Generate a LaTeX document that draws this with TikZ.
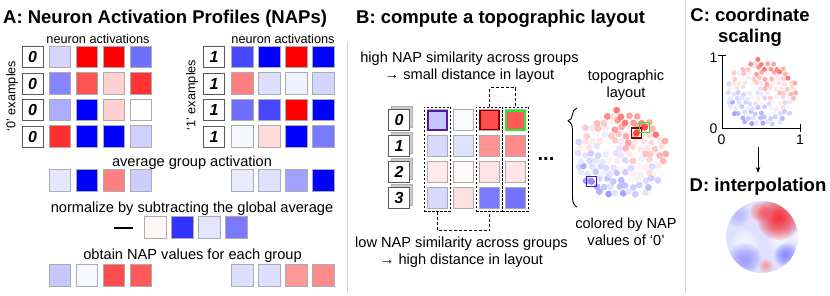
\documentclass[tikz,border=0pt]{standalone}
\usepackage{fontspec}
\setmainfont{Liberation Sans}
\usetikzlibrary{arrows.meta, positioning, fit, decorations.pathreplacing}
\definecolor{selpurple}{RGB}{85,25,150}
\definecolor{seldarkred}{RGB}{135,0,0}
\definecolor{selgreen}{RGB}{40,235,40}
\colorlet{sepgray}{gray!35}

\tikzset{
  napsq/.style={draw=gray!65, line width=0.8pt, minimum size=21.5pt, inner sep=0},
  digitbox/.style={draw=gray!70!black, fill=white, line width=0.6pt, minimum size=21pt, inner sep=0,
    font=\fontsize{16}{16}\selectfont\bfseries\itshape},
  digitback/.style={draw=gray!60, fill=gray!40, line width=0.6pt, minimum size=21pt, inner sep=0},
  colbox/.style={draw, dash pattern=on 2.5pt off 1.5pt, line width=0.7pt, inner sep=2.5pt},
  link/.style={draw, dash pattern=on 3pt off 2pt, line width=0.8pt},
  paneltitle/.style={font=\fontsize{18.5}{21}\selectfont\bfseries, inner sep=0},
  lbl/.style={font=\fontsize{14.6}{17}\selectfont, inner sep=0, align=center},
  smalllbl/.style={font=\fontsize{12.7}{14}\selectfont, inner sep=0},
  ticklbl/.style={font=\fontsize{14}{14}\selectfont, inner sep=0},
}

% layout dots on a jittered grid, coloured by the NAP value of '0'
\newcommand{\napdots}[4]{%
  \pgfmathsetseed{42}
  \foreach \j in {-7,...,7}{
    \foreach \i in {-7,...,7}{
      \pgfmathsetmacro{\ux}{(\i+0.5*mod(abs(\j),2)+0.45*(rnd-0.5))/6.3}
      \pgfmathsetmacro{\vy}{(0.866*\j+0.45*(rnd-0.5))/6.3}
      \pgfmathtruncatemacro{\inside}{((\ux)*(\ux)+(\vy)*(\vy)<0.92)}
      \pgfmathtruncatemacro{\napv}{48*(\vy)+22*(\ux)+50*(rnd-0.5)}
      \pgfmathsetmacro{\px}{#1+#3*(\ux)}
      \pgfmathsetmacro{\py}{#2-#3*(\vy)}
      \ifnum\inside=1
        \ifnum\napv>0
          \pgfmathtruncatemacro{\ci}{min(75,1.1*\napv)}
          \fill[red!\ci, fill opacity=0.85] (\px,\py) circle[radius=#4];
        \else
          \pgfmathtruncatemacro{\ci}{min(45,-0.75*\napv)}
          \fill[blue!\ci, fill opacity=0.85] (\px,\py) circle[radius=#4];
        \fi
      \fi
    }
  }
}
% soft blob for the interpolated map
\newcommand{\napblob}[4]{%
  \foreach \s in {1,...,10}{
    \fill[#4, fill opacity=0.13] (#1,#2) circle[radius={#3*\s/10}];
  }
}

\begin{document}
\begin{tikzpicture}[x=1pt, y=-1pt, >=Stealth]
  \useasboundingbox (0,0) rectangle (830,295);

  % Panel titles
  \node[paneltitle, anchor=base west] (atitle) at (3,23) {A: Neuron Activation Profiles (NAPs)};
  \node[paneltitle, anchor=base west] (btitle) at (356,23) {B: compute a topographic layout};
  \node[paneltitle, align=center] (ctitle) at (750,27) {C: coordinate\\scaling};
  \node[paneltitle, anchor=base] (dtitle) at (758,191) {D: interpolation};

  % Separators
  \draw[sepgray, line width=1pt] (347,42) -- (347,292);
  \draw[sepgray, line width=1pt] (685,0) -- (685,293);

  % A: activations per example
  \node[smalllbl, anchor=base] (actzero) at (98,43) {neuron activations};
  \node[smalllbl, anchor=base] (actone) at (283,43) {neuron activations};
  \node[smalllbl, rotate=90] (exzero) at (12,96) {‘0’ examples};
  \node[smalllbl, rotate=90] (exone) at (192,95) {‘1’ examples};

  \foreach \r in {1,...,4}{
    \node[digitbox] (dzero\r) at (32.5,30.5+26.5*\r) {0};
    \node[digitbox] (done\r) at (214,30.5+26.5*\r) {1};
  }
  \foreach \row [count=\r] in {{blue!16,red,red,blue!57},{blue!48,red!68,red!18,red!80},
      {blue!32,blue,red!18,white},{red!82,blue,blue,blue!18}}
    \foreach \col [count=\c] in \row
      \node[napsq, fill=\col] (zs\r\c) at (33+27*\c,30.5+26.5*\r) {};
  \foreach \row [count=\r] in {{blue!72,blue,red,blue},{red!50,blue!13,blue!6,blue!17},
      {blue!57,blue!72,red,blue},{blue!3,red!14,blue,blue!52}}
    \foreach \col [count=\c] in \row
      \node[napsq, fill=\col] (os\r\c) at (215.5+27*\c,30.5+26.5*\r) {};

  % A: averages and normalisation
  \node[lbl, anchor=base] (avglbl) at (192,166) {average group activation};
  \foreach \col [count=\c] in {blue!10,blue,red!50,blue!20}
    \node[napsq, fill=\col] (avgz\c) at (33+27*\c,180.5) {};
  \foreach \col [count=\c] in {blue!8,blue!12,blue!37,blue}
    \node[napsq, fill=\col] (avgo\c) at (215.5+27*\c,180.5) {};

  \node[lbl, anchor=base] (normlbl) at (192,212) {normalize by subtracting the global average};
  \node[fill=black, minimum width=19pt, minimum height=2pt, inner sep=0] (minus) at (123.5,227.5) {};
  \foreach \col [count=\c] in {red!3,blue!80,blue!10,blue!52}
    \node[napsq, fill=\col] (glob\c) at (128.5+27*\c,227.5) {};

  \node[lbl, anchor=base] (naplbl) at (192.5,259) {obtain NAP values for each group};
  \foreach \col [count=\c] in {blue!22,blue!3,red!70,red!65}
    \node[napsq, fill=\col] (napz\c) at (33+27*\c,275.5) {};
  \foreach \col [count=\c] in {blue!13,blue!13,red!40,red!45}
    \node[napsq, fill=\col] (napo\c) at (215.5+27*\c,275.5) {};

  % B: NAP table
  \node[lbl] (hightxt) at (469.5,67.5) {high NAP similarity across groups\\→ small distance in layout};
  \foreach \d [count=\r] in {0,1,2,3}{
    \node[digitback] (bback\r) at (402,91+26*\r) {};
    \node[digitbox] (bdig\r) at (399,94+26*\r) {\d};
  }
  \foreach \row [count=\r] in {{blue!22,blue!2,red!70,red!65},{blue!15,blue!12,red!42,red!45},
      {red!8,red!2,red!10,red!10},{blue!15,red!12,blue!52,blue!55}}
    \foreach \col [count=\c] in \row
      \node[napsq, minimum size=20.5pt, fill=\col] (b\r\c) at (411.5+26*\c,94+26*\r) {};
  \node[draw=selpurple, line width=2pt, minimum size=19pt, inner sep=0] (hlpurple) at (b11) {};
  \node[draw=seldarkred, line width=1.8pt, minimum size=19pt, inner sep=0] (hlred) at (b13) {};
  \node[draw=selgreen, line width=2pt, minimum size=19pt, inner sep=0] (hlgreen) at (b14) {};

  \node[colbox, fit=(b11)(b41)] (cone) {};
  \node[colbox, fit=(b13)(b43)] (cthree) {};
  \node[colbox, fit=(b14)(b44)] (cfour) {};
  \draw[link] (cthree.north) -- ++(0,-19) -| (cfour.north);
  \draw[link] (cone.south) -- ++(0,19) -| (cthree.south);
  \node[lbl] (lowtxt) at (461.5,252.7) {low NAP similarity across groups\\→ high distance in layout};
  \node[font=\fontsize{20}{20}\selectfont\bfseries, inner sep=0] (more) at (546,159) {...};

  % B: topographic layout
  \node[lbl] (topolbl) at (626,85) {topographic\\layout};
  \draw[decorate, decoration={brace, amplitude=9pt, aspect=0.87}, line width=0.9pt] (577,207) -- (577,108);
  \napdots{622}{154}{47}{3.4}
  \fill[red!75] (636.5,133) circle[radius=3.4];
  \fill[red!70] (644.5,127.5) circle[radius=3.4];
  \fill[blue!45] (591.5,181.5) circle[radius=3.4];
  \node[draw=seldarkred, line width=1.6pt, minimum size=10pt, inner sep=0] (selred) at (636.5,133) {};
  \node[draw=selgreen, line width=1.6pt, minimum size=10pt, inner sep=0] (selgreen) at (644.5,127.5) {};
  \node[draw=selpurple, line width=1.6pt, minimum size=10pt, inner sep=0] (selpurple) at (591.5,181.5) {};
  \node[lbl] (colorlbl) at (626,232) {colored by NAP\\values of ‘0’};

  % C: coordinate scaling
  \napdots{762}{93}{36}{2.5}
  \draw[line width=1pt] (722,55) -- (722,128) -- (800,128);
  \draw[line width=1pt] (718,55) -- (726,55);
  \draw[line width=1pt] (800,124) -- (800,132);
  \node[ticklbl] (yone) at (713.5,57.5) {1};
  \node[ticklbl] (yzero) at (713.5,128.5) {0};
  \node[ticklbl] (xzero) at (721.5,140) {0};
  \node[ticklbl] (xone) at (800,140) {1};
  \coordinate (cbottom) at (758,147);
  \draw[-{Stealth[length=6pt,width=4.5pt]}, line width=0.8pt, shorten >=4.5pt] (cbottom) -- (dtitle.north);

  % D: interpolation
  \begin{scope}
    \clip (762,237) circle[radius=36];
    \fill[blue!12] (762,237) circle[radius=36];
    \napblob{738}{215}{12}{blue!30}
    \napblob{745}{243}{14}{white}
    \napblob{780}{241}{12}{white}
    \napblob{796}{237}{8}{white}
    \napblob{760}{212}{10}{red!55}
    \napblob{779}{218}{22}{red}
    \napblob{745}{259}{16}{blue!45}
    \napblob{786}{255}{12}{blue!55}
    \napblob{766}{266}{7}{red!45}
  \end{scope}
\end{tikzpicture}
\end{document}
